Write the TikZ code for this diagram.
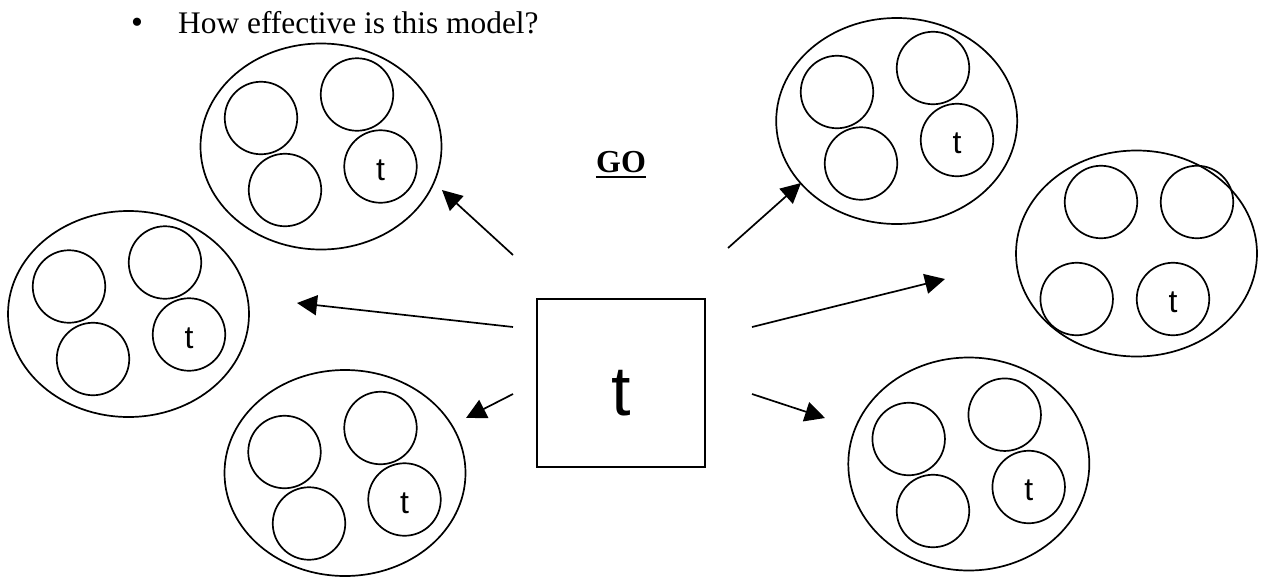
\documentclass[tikz,border=0pt]{standalone}
\usepackage{fontspec}
\setmainfont{Liberation Serif}
\newfontfamily\tsans{Liberation Sans}
\usetikzlibrary{shapes.geometric,arrows.meta}
\tikzset{
  ln/.style={line width=1.7pt},
  group/.style={ln, draw, ellipse, inner sep=0pt, minimum width=241pt, minimum height=206pt},
  ball/.style={ln, draw, circle, inner sep=0pt, minimum size=72.5pt},
  tlabel/.style={font=\tsans\fontsize{32}{32}\selectfont, inner sep=0pt},
  arr/.style={ln, -{Triangle[length=20pt,width=20pt]}},
}
\begin{document}
\begin{tikzpicture}[x=1pt,y=-1pt]
\useasboundingbox (0,0) rectangle (1262,579);

% heading text
\node[anchor=base, inner sep=0pt, font=\fontsize{34}{34}\selectfont] (bul) at (137,33) {\textbullet};
\node[anchor=base west, inner sep=0pt, font=\fontsize{31.4}{31.4}\selectfont] (q) at (178,33) {How effective is this model?};
\node[anchor=base, inner sep=0pt, font=\bfseries\fontsize{32}{32}\selectfont] (go) at (621,172) {GO};
\draw[line width=2.4pt] ([yshift=-5pt]go.base west) -- ([yshift=-5pt]go.base east);

% centre square
\node[ln, draw, minimum size=168pt, inner sep=0pt] (sq) at (621,383) {};
\node[font=\tsans\fontsize{70}{70}\selectfont, inner sep=0pt] (bigt) at (621,393) {t};

% top-left group
\node[group] (g1) at (321,146.5) {};
\node[ball] (g1a) at (261,118) {};
\node[ball] (g1b) at (357,94.5) {};
\node[ball] (g1c) at (285,190) {};
\node[ball] (g1d) at (380.5,166.5) {};
\node[tlabel] (g1t) at (380.5,170) {t};

% left group
\node[group] (g2) at (128.5,314) {};
\node[ball] (g2a) at (69,286.5) {};
\node[ball] (g2b) at (165,262.5) {};
\node[ball] (g2c) at (93,359) {};
\node[ball] (g2d) at (189,334.5) {};
\node[tlabel] (g2t) at (189,338) {t};

% bottom-left group
\node[group] (g3) at (345,473) {};
\node[ball] (g3a) at (284.5,452) {};
\node[ball] (g3b) at (380.5,428) {};
\node[ball] (g3c) at (309,523.5) {};
\node[ball] (g3d) at (404.5,499.5) {};
\node[tlabel] (g3t) at (404.5,503) {t};

% top-right group
\node[group] (g4) at (896.7,121) {};
\node[ball] (g4a) at (837,92) {};
\node[ball] (g4b) at (933,68) {};
\node[ball] (g4c) at (861,163.5) {};
\node[ball] (g4d) at (957,140) {};
\node[tlabel] (g4t) at (957,143.5) {t};

% middle-right group
\node[group] (g5) at (1136.5,253.5) {};
\node[ball] (g5a) at (1101,202) {};
\node[ball] (g5b) at (1197,202) {};
\node[ball] (g5c) at (1076.7,299) {};
\node[ball] (g5d) at (1173,299) {};
\node[tlabel] (g5t) at (1173,302.5) {t};

% bottom-right group
\node[group, minimum height=213pt] (g6) at (968.8,464) {};
\node[ball] (g6a) at (908.7,439) {};
\node[ball] (g6b) at (1004.7,414.7) {};
\node[ball] (g6c) at (933,511) {};
\node[ball] (g6d) at (1028.7,487) {};
\node[tlabel] (g6t) at (1028.7,490.5) {t};

% arrow ends
\coordinate (s1) at (513,255); \coordinate (e1) at (442,190);
\coordinate (s2) at (513,327); \coordinate (e2) at (297,303);
\coordinate (s3) at (513,394); \coordinate (e3) at (466,418);
\coordinate (s4) at (728,248); \coordinate (e4) at (801,183);
\coordinate (s5) at (752,327); \coordinate (e5) at (945,279);
\coordinate (s6) at (752,394); \coordinate (e6) at (825,418);
\draw[arr] (s1) -- (e1);
\draw[arr] (s2) -- (e2);
\draw[arr] (s3) -- (e3);
\draw[arr] (s4) -- (e4);
\draw[arr] (s5) -- (e5);
\draw[arr] (s6) -- (e6);
\end{tikzpicture}
\end{document}
